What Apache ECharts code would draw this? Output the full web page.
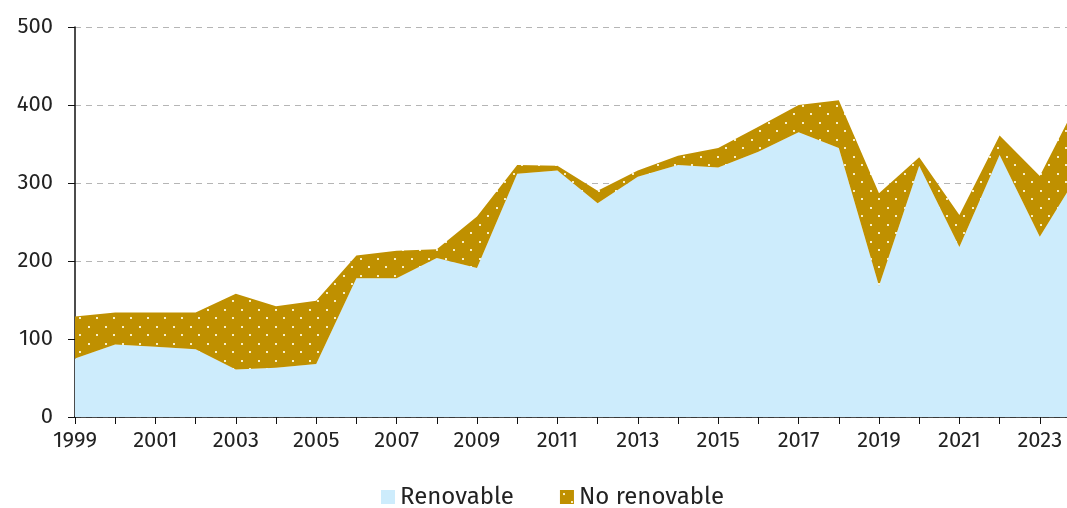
<!DOCTYPE html>
<html>
<head>
<meta charset="utf-8">
<script src="https://cdn.jsdelivr.net/npm/echarts@6/dist/echarts.min.js"></script>
<style>
  html, body { margin: 0; padding: 0; background: #fff; }
  #chart { width: 1067px; height: 508px; }
</style>
</head>
<body>
<div id="chart"></div>
<script>
var years = ["1999", "2000", "2001", "2002", "2003", "2004", "2005", "2006", "2007", "2008", "2009", "2010", "2011",
             "2012", "2013", "2014", "2015", "2016", "2017", "2018", "2019", "2020", "2021", "2022", "2023", "2024"];
var renovable = [75, 93, 90, 87, 61, 63, 68, 178, 178, 204, 191, 312, 316,
                 274, 308, 323, 320, 340, 365, 345, 168, 322, 218, 336, 231, 315];
var noRenovable = [54, 41, 44, 47, 97, 79, 81, 29, 35, 11, 66, 11, 6,
                   16, 8, 12, 25, 32, 35, 61, 119, 11, 41, 25, 78, 95];

// dotted gold pattern tile
var tile = document.createElement("canvas");
tile.width = 17;
tile.height = 17;
var ctx = tile.getContext("2d");
ctx.fillStyle = "#bf9000";
ctx.fillRect(0, 0, 17, 17);
ctx.fillStyle = "rgba(255,250,220,0.9)";
ctx.fillRect(3, 3, 2, 2);
ctx.fillRect(11, 11, 2, 2);

var font = '"Fira Sans", "Open Sans", "Noto Sans", sans-serif';

var img = new Image();
img.onload = function () {
  var dotted = { image: img, repeat: "repeat" };
  var chart = echarts.init(document.getElementById("chart"));
  chart.setOption({
    animation: false,
    textStyle: { fontFamily: font },
    // 2024 falls just past the right edge of the picture
    grid: { left: 75, right: -13, top: 27, bottom: 91, outerBoundsMode: "none", containLabel: false },
    legend: {
      top: 480,
      left: 376,
      itemWidth: 14,
      itemHeight: 14,
      itemGap: 46,
      icon: "rect",
      textStyle: { fontSize: 24, color: "#222", fontFamily: font },
      data: ["Renovable", "No renovable"]
    },
    xAxis: {
      type: "category",
      data: years,
      boundaryGap: false,
      axisLine: { show: true, lineStyle: { color: "#111", width: 1.5 } },
      axisTick: { show: true, length: 7, interval: 0, lineStyle: { color: "#111" } },
      splitLine: { show: false },
      axisLabel: {
        fontSize: 22,
        color: "#222",
        margin: 13,
        interval: 1
      }
    },
    yAxis: {
      type: "value",
      min: 0,
      max: 500,
      interval: 100,
      axisLine: { show: true, lineStyle: { color: "#111", width: 1.5 } },
      axisTick: { show: true, length: 7, lineStyle: { color: "#111" } },
      splitLine: { show: true, lineStyle: { color: "#b5b5b5", type: [6, 5], width: 1 } },
      axisLabel: { fontSize: 22, color: "#222", margin: 22 }
    },
    series: [
      {
        name: "Renovable",
        type: "line",
        stack: "total",
        symbol: "none",
        lineStyle: { width: 0 },
        itemStyle: { color: "#cdecfc" },
        areaStyle: { color: "#cdecfc", opacity: 1 },
        data: renovable
      },
      {
        name: "No renovable",
        type: "line",
        stack: "total",
        symbol: "none",
        lineStyle: { width: 0 },
        itemStyle: { color: dotted },
        areaStyle: { color: dotted, opacity: 1 },
        data: noRenovable
      }
    ]
  });
};
img.src = tile.toDataURL();
</script>
</body>
</html>
